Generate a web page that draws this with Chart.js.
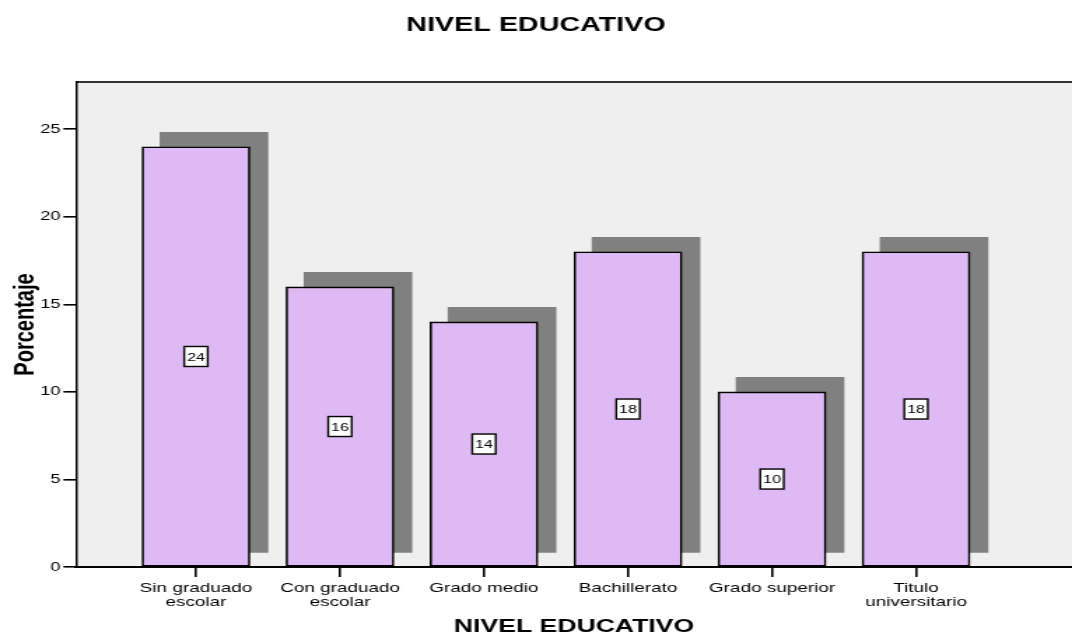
<!DOCTYPE html>
<html>
<head>
<meta charset="utf-8">
<script src="https://cdn.jsdelivr.net/npm/chart.js@4.4.1/dist/chart.umd.min.js"></script>
<style>
  body { margin: 0; background: #fff; }
</style>
</head>
<body>
<!-- the original picture is stretched sideways, so the canvas is drawn narrower and widened by its inline style -->
<canvas id="myChart" width="766" height="639" style="display:block;width:1072px;height:639px;"></canvas>
<script>
// categories and values
const categories = [
    ['Sin graduado', 'escolar'],
    ['Con graduado', 'escolar'],
    'Grado medio',
    'Bachillerato',
    'Grado superior',
    ['Titulo', 'universitario']
];
const percentages = [24, 16, 14, 18, 10, 18];
const yTicks = [0, 5, 10, 15, 20, 25];

// shadow offset (in axis units) for the grey block behind each bar
const SHADOW_DX = 0.125;
const SHADOW_DY = 0.83;

const FONT = "'Liberation Sans', Arial, sans-serif";

const plotBackground = {
    id: 'plotBackground',
    beforeDraw(chart) {
        const { ctx, chartArea } = chart;
        ctx.save();
        ctx.fillStyle = '#efefef';
        ctx.fillRect(chartArea.left, chartArea.top, chartArea.right - chartArea.left, chartArea.bottom - chartArea.top);
        ctx.strokeStyle = '#333333';
        ctx.lineWidth = 2;
        ctx.beginPath();
        ctx.moveTo(chartArea.left, chartArea.top);
        ctx.lineTo(chartArea.right, chartArea.top);
        ctx.stroke();
        ctx.restore();
    }
};

const boxLabels = {
    id: 'boxLabels',
    afterDatasetsDraw(chart) {
        const ctx = chart.ctx;
        const meta = chart.getDatasetMeta(1);
        ctx.save();
        ctx.font = '11.5px ' + FONT;
        ctx.textAlign = 'center';
        ctx.textBaseline = 'middle';
        meta.data.forEach((bar, i) => {
            const text = String(percentages[i]);
            const cx = bar.x;
            const cy = (bar.y + bar.base) / 2;
            const w = ctx.measureText(text).width + 4;
            const h = 20;
            ctx.fillStyle = '#ffffff';
            ctx.fillRect(cx - w / 2, cy - h / 2, w, h);
            ctx.strokeStyle = '#000000';
            ctx.lineWidth = 1.4;
            ctx.strokeRect(cx - w / 2, cy - h / 2, w, h);
            ctx.fillStyle = '#000000';
            ctx.fillText(text, cx, cy + 1);
        });
        ctx.restore();
    }
};

const ctx = document.getElementById('myChart').getContext('2d');
const myChart = new Chart(ctx, {
    type: 'bar',
    data: {
        datasets: [{
            label: 'sombra',
            data: percentages.map((v, i) => ({ x: i + SHADOW_DX, y: [SHADOW_DY, v + SHADOW_DY] })),
            backgroundColor: '#808080',
            borderWidth: 0,
            barThickness: 77,
            grouped: false,
            order: 2
        }, {
            label: 'Porcentaje',
            data: percentages.map((v, i) => ({ x: i, y: v })),
            backgroundColor: '#dfb9f3',
            borderColor: '#000000',
            borderWidth: 1.6,
            borderSkipped: false,
            barThickness: 77,
            grouped: false,
            order: 1
        }]
    },
    options: {
        responsive: false,
        animation: false,
        layout: { padding: 0 },
        plugins: {
            legend: { display: false },
            tooltip: { enabled: false },
            title: {
                display: true,
                text: 'NIVEL EDUCATIVO',
                color: '#000',
                font: { family: FONT, size: 20.5, weight: 'bold' },
                padding: { top: 13, bottom: 44.4 }
            }
        },
        scales: {
            x: {
                type: 'linear',
                min: -0.833,
                max: 6.083,
                offset: false,
                afterBuildTicks: (scale) => {
                    scale.ticks = categories.map((c, i) => ({ value: i }));
                },
                afterFit: (scale) => { scale.height = 72; },
                ticks: {
                    autoSkip: false,
                    maxRotation: 0,
                    padding: 4,
                    color: '#000',
                    font: { family: FONT, size: 13.5, lineHeight: 1.05 },
                    callback: (value) => categories[value]
                },
                grid: {
                    offset: false,
                    drawOnChartArea: false,
                    drawTicks: true,
                    tickLength: 10,
                    color: '#000',
                    lineWidth: 1.6
                },
                border: { display: true, color: '#000', width: 2 },
                title: {
                    display: true,
                    text: 'NIVEL EDUCATIVO',
                    color: '#000',
                    font: { family: FONT, size: 19, weight: 'bold' },
                    padding: { top: 0, bottom: 0.5 }
                }
            },
            y: {
                min: 0,
                max: 27.7,
                afterBuildTicks: (scale) => {
                    scale.ticks = yTicks.map(v => ({ value: v }));
                },
                afterFit: (scale) => { scale.width = 54.3; },
                ticks: {
                    padding: 2,
                    color: '#000',
                    font: { family: FONT, size: 13 }
                },
                grid: {
                    drawOnChartArea: false,
                    drawTicks: true,
                    tickLength: 9,
                    color: '#000',
                    lineWidth: 1.6
                },
                border: { display: true, color: '#000', width: 1.5 },
                title: {
                    display: true,
                    text: 'Porcentaje',
                    color: '#000',
                    font: { family: FONT, size: 20, weight: 'bold' },
                    padding: { top: 6, bottom: 0 }
                }
            }
        }
    },
    plugins: [plotBackground, boxLabels]
});
</script>
</body>
</html>
